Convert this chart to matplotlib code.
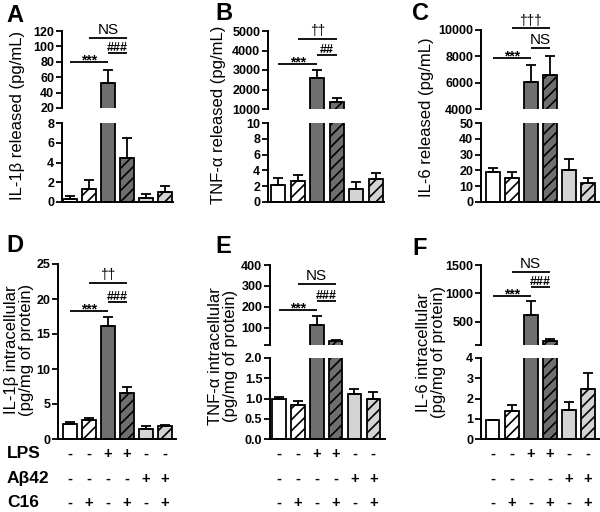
import matplotlib
matplotlib.use('Agg')
import matplotlib.pyplot as plt
import matplotlib.transforms as mtransforms
import numpy as np

plt.rcParams['font.family'] = ['Liberation Sans', 'DejaVu Sans']
plt.rcParams['hatch.linewidth'] = 1.2

W, H = 600, 512
fig = plt.figure(figsize=(6, 5.12), dpi=100)

# ---------------- data ----------------
groups = ['Control', 'C16', 'LPS', 'LPS+C16', 'Aβ42', 'Aβ42+C16']
lps_signs = ['-', '-', '+', '+', '-', '-']
abeta_signs = ['-', '-', '-', '-', '+', '+']
c16_signs = ['-', '+', '-', '+', '-', '+']

il1b_rel_mean = [0.3, 1.3, 52, 4.5, 0.4, 1.0]
il1b_rel_err = [0.3, 0.9, 17, 2.0, 0.4, 0.6]
tnf_rel_mean = [2.2, 2.6, 2600, 1350, 1.6, 2.9]
tnf_rel_err = [0.9, 0.8, 420, 190, 0.9, 0.8]
il6_rel_mean = [19, 15.5, 6050, 6600, 20.5, 12]
il6_rel_err = [2.5, 3.5, 1300, 1450, 6.5, 3.5]
il1b_int_mean = [2.2, 2.7, 16.1, 6.6, 1.5, 1.8]
il1b_int_err = [0.3, 0.35, 1.3, 0.85, 0.3, 0.25]
tnf_int_mean = [0.98, 0.83, 115, 37, 1.1, 0.98]
tnf_int_err = [0.05, 0.11, 43, 4, 0.14, 0.19]
il6_int_mean = [0.92, 1.38, 620, 150, 1.42, 2.48]
il6_int_err = [0.03, 0.28, 245, 38, 0.41, 0.8]

# ---------------- styles ----------------
DARK = '#6f6f6f'
LIGHT = '#d4d4d4'
faces = ['white', 'white', DARK, DARK, LIGHT, LIGHT]
hatches = ['', '///', '', '///', '', '///']
LW = 1.3
x = np.arange(len(groups))


def px_axes(left, top, right, bottom):
    return fig.add_axes([left / W, 1 - bottom / H, (right - left) / W, (bottom - top) / H])


def draw_bars(ax, means, errs):
    bars = ax.bar(x, means, width=0.72, color=faces, edgecolor='black', linewidth=LW, zorder=2)
    for b, h in zip(bars, hatches):
        b.set_hatch(h)
    ax.errorbar(x, means, yerr=[np.zeros(len(x)), errs], fmt='none', ecolor='black',
                elinewidth=LW, capsize=3.5, capthick=LW, zorder=3)


def style_axis(ax, xlim, ylim, ticks, labels, bottom_spine):
    ax.set_xlim(*xlim)
    ax.set_ylim(*ylim)
    for s in ['top', 'right']:
        ax.spines[s].set_visible(False)
    ax.spines['bottom'].set_visible(bottom_spine)
    for s in ['left', 'bottom']:
        ax.spines[s].set_linewidth(1.4)
    ax.set_xticks([])
    ax.set_yticks(ticks)
    ax.set_yticklabels(labels)
    ax.tick_params(axis='y', length=4, width=1.3, direction='out', pad=1.5,
                   labelsize=9)
    for t in ax.get_yticklabels():
        t.set_fontweight('bold')
    ax.patch.set_visible(False)


def fmt(v, dec=0):
    return f'{v:.{dec}f}'


def broken_panel(left, right, up_px, lo_px, xlim, means, errs,
                 up_lim, up_ticks, up_labels, lo_lim, lo_ticks, lo_labels):
    axu = px_axes(left, up_px[0], right, up_px[1])
    axl = px_axes(left, lo_px[0], right, lo_px[1])
    draw_bars(axu, means, errs)
    draw_bars(axl, means, errs)
    style_axis(axu, xlim, up_lim, up_ticks, up_labels, False)
    style_axis(axl, xlim, lo_lim, lo_ticks, lo_labels, True)
    return axu, axl


def annot(ax, i, j, ypx, text, size, weight='normal', dy=0.5):
    tr = mtransforms.blended_transform_factory(ax.transData, fig.transFigure)
    y = 1 - ypx / H
    ax.plot([i, j], [y, y], color='black', lw=1.3, transform=tr, clip_on=False, solid_capstyle='butt')
    ax.text((i + j) / 2, y + dy / H, text, transform=tr, ha='center', va='bottom',
            fontsize=size, fontweight=weight)


def stars(ax, i, j, ypx):
    tr = mtransforms.blended_transform_factory(ax.transData, fig.transFigure)
    y = 1 - ypx / H
    ax.plot([i, j], [y, y], color='black', lw=1.3, transform=tr, clip_on=False, solid_capstyle='butt')
    ax.text((i + j) / 2, 1 - (ypx + 2.5) / H, '***', transform=tr, ha='center', va='baseline',
            fontsize=10, fontweight='bold')


# ---------------- Panel A ----------------
A_u, A_l = broken_panel(62, 173, (31, 108), (123, 202), (-0.42, 5.42), il1b_rel_mean, il1b_rel_err,
                        (20, 120), [20, 40, 60, 80, 100, 120], [fmt(v) for v in [20, 40, 60, 80, 100, 120]],
                        (0, 8), [0, 2, 4, 6, 8], [fmt(v) for v in [0, 2, 4, 6, 8]])
stars(A_u, 0, 2, 62)
annot(A_u, 2, 3, 53, '###', 9, 'bold', dy=-1)
annot(A_u, 1, 3, 38, 'NS', 11)

# ---------------- Panel B ----------------
B_u, B_l = broken_panel(268, 384, (31, 109), (123, 202), (-0.53, 5.41), tnf_rel_mean, tnf_rel_err,
                        (1000, 5000), [1000, 2000, 3000, 4000, 5000], [fmt(v) for v in [1000, 2000, 3000, 4000, 5000]],
                        (0, 10), [0, 2, 4, 6, 8, 10], [fmt(v) for v in [0, 2, 4, 6, 8, 10]])
stars(B_u, 0, 2, 64)
annot(B_u, 2, 3, 55, '##', 9, 'bold', dy=-1)
annot(B_u, 1, 3, 39, '††', 10)

# ---------------- Panel C ----------------
C_u, C_l = broken_panel(481, 599, (30, 109), (123, 202), (-0.61, 5.57), il6_rel_mean, il6_rel_err,
                        (4000, 10000), [4000, 6000, 8000, 10000], [fmt(v) for v in [4000, 6000, 8000, 10000]],
                        (0, 50), [0, 10, 20, 30, 40, 50], [fmt(v) for v in [0, 10, 20, 30, 40, 50]])
stars(C_u, 0, 2, 58)
annot(C_u, 2, 3, 48, 'NS', 11)
annot(C_u, 1, 3, 28, '†††', 10)

# ---------------- Panel D ----------------
D_ax = px_axes(58, 264, 176, 439)
draw_bars(D_ax, il1b_int_mean, il1b_int_err)
style_axis(D_ax, (-0.62, 5.58), (0, 25), [0, 5, 10, 15, 20, 25],
           [fmt(v) for v in [0, 5, 10, 15, 20, 25]], True)
stars(D_ax, 0, 2, 311)
annot(D_ax, 2, 3, 302, '###', 9, 'bold', dy=-1)
annot(D_ax, 1, 3, 283, '††', 10)

# ---------------- Panel E ----------------
E_u, E_l = broken_panel(270, 385, (265, 345), (358, 439), (-0.48, 5.62), tnf_int_mean, tnf_int_err,
                        (17, 400), [17, 100, 200, 300, 400], [''] + [fmt(v) for v in [100, 200, 300, 400]],
                        (0, 2), [0, 0.5, 1.0, 1.5, 2.0], [fmt(v, 1) for v in [0, 0.5, 1.0, 1.5, 2.0]])
stars(E_u, 0, 2, 310)
annot(E_u, 2, 3, 301, '###', 9, 'bold', dy=-1)
annot(E_u, 1, 3, 284, 'NS', 11)

# ---------------- Panel F ----------------
F_u, F_l = broken_panel(481, 599, (265, 345), (358, 439), (-0.61, 5.58), il6_int_mean, il6_int_err,
                        (88, 1500), [88, 500, 1000, 1500], [''] + [fmt(v) for v in [500, 1000, 1500]],
                        (0, 4), [0, 1, 2, 3, 4], [fmt(v) for v in [0, 1, 2, 3, 4]])
stars(F_u, 0, 2, 296)
annot(F_u, 2, 3, 287, '###', 9, 'bold', dy=-1)
annot(F_u, 1, 3, 272, 'NS', 11)

# ---------------- y labels ----------------
def ylab(cx, cy, text, size):
    fig.text(cx / W, 1 - cy / H, text, rotation=90, ha='center', va='center',
             fontsize=size, multialignment='center', linespacing=0.95)

ylab(18, 115, 'IL-1β released (pg/mL)', 12)
ylab(218, 115, 'TNF-α released (pg/mL)', 12)
ylab(426, 117, 'IL-6 released (pg/mL)', 12)
ylab(19, 350, 'IL-1β intracellular\n(pg/mg of protein)', 12)
ylab(223, 356, 'TNF-α intracellular\n(pg/mg of protein)', 12)
ylab(431, 352, 'IL-6 intracellular\n(pg/mg of protein)', 12)

# ---------------- panel letters ----------------
for letter, lx, by in [('A', 6, 22), ('B', 215, 20), ('C', 412, 20),
                       ('D', 6, 252), ('E', 215, 253), ('F', 412, 255)]:
    fig.text(lx / W, 1 - by / H, letter, fontsize=17, fontweight='bold', ha='left', va='baseline')

# ---------------- treatment rows ----------------
rows = [('LPS', lps_signs, 458), ('Aβ42', abeta_signs, 483), ('C16', c16_signs, 507)]
for name, signs, by in rows:
    fig.text(7 / W, 1 - by / H, name, fontsize=12.5, fontweight='bold', ha='left', va='baseline')
    for ax in (D_ax, E_l, F_l):
        tr = mtransforms.blended_transform_factory(ax.transData, fig.transFigure)
        for xi, s in zip(x, signs):
            ax.text(xi, 1 - by / H, s, transform=tr, ha='center', va='baseline',
                    fontsize=10.5, fontweight='bold', clip_on=False)

fig.savefig('out.png', dpi=100)
